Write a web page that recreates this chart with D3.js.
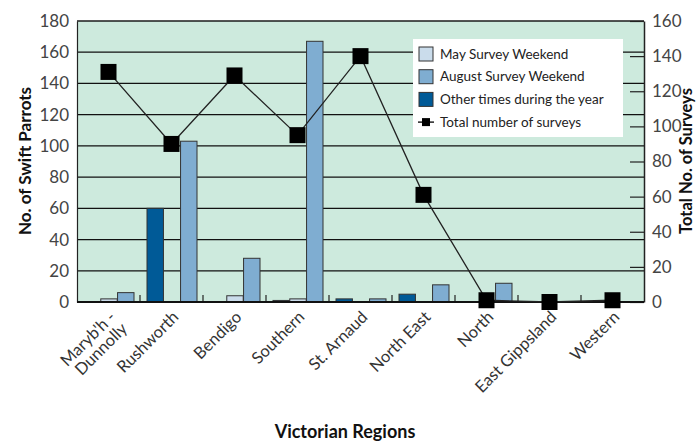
<!DOCTYPE html>
<html>
<head>
<meta charset="utf-8">
<script src="https://cdn.jsdelivr.net/npm/d3@7/dist/d3.min.js"></script>
<style>
  body { margin: 0; background: #fff; }
  svg { display: block; }
  text { font-family: Lato, "Open Sans", sans-serif; }
</style>
</head>
<body>
<svg id="chart" width="697" height="444"></svg>
<script>
const regions = [["Maryb'h -", "Dunnolly"], ["Rushworth"], ["Bendigo"], ["Southern"], ["St. Arnaud"], ["North East"], ["North"], ["East Gippsland"], ["Western"]];
const otherTimes = [0, 60, 0, 1, 2, 5, 0, 0, 0];
const maySurvey = [2, 0, 4, 2, 0, 0, 0, 0, 0];
const augSurvey = [6, 103, 28, 167, 2, 11, 12, 0, 0];
const totalSurveys = [131, 90, 129, 95, 140, 61, 1, 0, 1];
const leftTicks = [0, 20, 40, 60, 80, 100, 120, 140, 160, 180];
const rightTicks = [0, 20, 40, 60, 80, 100, 120, 140, 160];
const seriesNames = ["May Survey Weekend", "August Survey Weekend", "Other times during the year", "Total number of surveys"];

const colors = { other: "#005a97", may: "#cadceb", aug: "#7fadd1", bg: "#cdeadd" };

const svg = d3.select("#chart");
const m = { left: 77, right: 644, top: 21, bottom: 302 };

const x = d3.scaleBand().domain(d3.range(regions.length)).range([m.left, m.right]);
const yL = d3.scaleLinear().domain([0, 180]).range([m.bottom, m.top]);
const yR = d3.scaleLinear().domain([0, 160]).range([m.bottom, m.top]);

// background
svg.append("rect").attr("x", m.left).attr("y", m.top)
  .attr("width", m.right - m.left).attr("height", m.bottom - m.top)
  .attr("fill", colors.bg);

// gridlines
svg.append("g").selectAll("line").data(leftTicks.filter(d => d > 0)).join("line")
  .attr("x1", m.left).attr("x2", m.right)
  .attr("y1", d => yL(d)).attr("y2", d => yL(d))
  .attr("stroke", "#111").attr("stroke-width", 1.2);

// left axis
const gL = svg.append("g").attr("transform", `translate(${m.left},0)`)
  .call(d3.axisLeft(yL).tickValues(leftTicks).tickSize(0).tickPadding(8));
gL.select(".domain").attr("stroke", "#222").attr("stroke-width", 1.2);
gL.selectAll("text").attr("font-size", 17).attr("fill", "#444").attr("font-family", "Lato, sans-serif");

// right axis (ticks inward)
const gR = svg.append("g").attr("transform", `translate(${m.right},0)`)
  .call(d3.axisRight(yR).tickValues(rightTicks).tickSizeInner(-14).tickSizeOuter(0).tickPadding(8));
gR.select(".domain").attr("stroke", "#222").attr("stroke-width", 1.5);
gR.selectAll(".tick line").attr("stroke", "#222").attr("stroke-width", 1.2);
gR.selectAll("text").attr("font-size", 17).attr("fill", "#444").attr("font-family", "Lato, sans-serif")
  .attr("x", 8);

// bars
const inner = d3.scaleBand().domain(["other", "may", "aug"]).range([7, 57]).paddingInner(0.02);
const seriesData = [
  { key: "other", values: otherTimes },
  { key: "may", values: maySurvey },
  { key: "aug", values: augSurvey }
];
seriesData.forEach(s => {
  svg.append("g").selectAll("rect").data(s.values.map((v, i) => ({ v, i }))).join("rect")
    .filter(d => d.v > 0)
    .attr("x", d => x(d.i) + inner(s.key))
    .attr("y", d => yL(d.v))
    .attr("width", inner.bandwidth())
    .attr("height", d => yL(0) - yL(d.v))
    .attr("fill", colors[s.key])
    .attr("stroke", "#333").attr("stroke-width", 1);
});

// category boundary ticks (inside)
svg.append("g").selectAll("line").data(d3.range(1, regions.length)).join("line")
  .attr("x1", d => x(d)).attr("x2", d => x(d))
  .attr("y1", m.bottom).attr("y2", m.bottom - 7)
  .attr("stroke", "#222").attr("stroke-width", 1.2);

// top border
svg.append("line").attr("x1", m.left).attr("x2", m.right).attr("y1", m.top).attr("y2", m.top)
  .attr("stroke", "#222").attr("stroke-width", 1.2);

// bottom axis line
svg.append("line").attr("x1", m.left).attr("x2", m.right).attr("y1", m.bottom).attr("y2", m.bottom)
  .attr("stroke", "#111").attr("stroke-width", 2);

// total surveys line
const cx = i => x(i) + x.bandwidth() / 2;
svg.append("path").datum(totalSurveys)
  .attr("d", d3.line().x((d, i) => cx(i)).y(d => yR(d)))
  .attr("fill", "none").attr("stroke", "#222").attr("stroke-width", 1.3);
svg.append("g").selectAll("rect").data(totalSurveys).join("rect")
  .attr("x", (d, i) => cx(i) - 8).attr("y", d => yR(d) - 8)
  .attr("width", 16).attr("height", 16).attr("fill", "#000");

// x labels
const xl = svg.append("g").selectAll("text").data(regions).join("text")
  .attr("transform", (d, i) => `translate(${cx(i) + 4},${m.bottom + 12}) rotate(-45)`)
  .attr("text-anchor", "end").attr("font-size", 16.5).attr("fill", "#333");
xl.selectAll("tspan").data(d => d).join("tspan")
  .attr("x", 0).attr("dy", (d, j) => j === 0 ? "0.35em" : "1em").text(d => d);

// axis titles
svg.append("text").attr("transform", `translate(31,161) rotate(-90)`)
  .attr("text-anchor", "middle").attr("font-size", 17).attr("font-weight", "bold").attr("fill", "#111")
  .text("No. of Swift Parrots");
svg.append("text").attr("transform", `translate(692,161) rotate(-90)`)
  .attr("text-anchor", "middle").attr("font-size", 16.5).attr("font-weight", "bold").attr("fill", "#111")
  .text("Total No. of Surveys");
svg.append("text").attr("x", 345).attr("y", 438)
  .attr("text-anchor", "middle").attr("font-size", 18).attr("font-weight", "bold").attr("fill", "#111")
  .text("Victorian Regions");

// legend
const lg = svg.append("g").attr("transform", "translate(413,39)");
lg.append("rect").attr("width", 210).attr("height", 98).attr("fill", "#fff");
const legendFill = [colors.may, colors.aug, colors.other];
seriesNames.forEach((name, i) => {
  const cy = 15 + i * 22.7;
  if (i < 3) {
    lg.append("rect").attr("x", 6).attr("y", cy - 7).attr("width", 14).attr("height", 14)
      .attr("fill", legendFill[i]).attr("stroke", "#333").attr("stroke-width", 1);
  } else {
    lg.append("line").attr("x1", 5).attr("x2", 21).attr("y1", cy).attr("y2", cy)
      .attr("stroke", "#000").attr("stroke-width", 1.3);
    lg.append("rect").attr("x", 9).attr("y", cy - 4).attr("width", 8).attr("height", 8).attr("fill", "#000");
  }
  lg.append("text").attr("x", 27).attr("y", cy).attr("dy", "0.35em")
    .attr("font-size", 13.5).attr("fill", "#222").text(name);
});
</script>
</body>
</html>
